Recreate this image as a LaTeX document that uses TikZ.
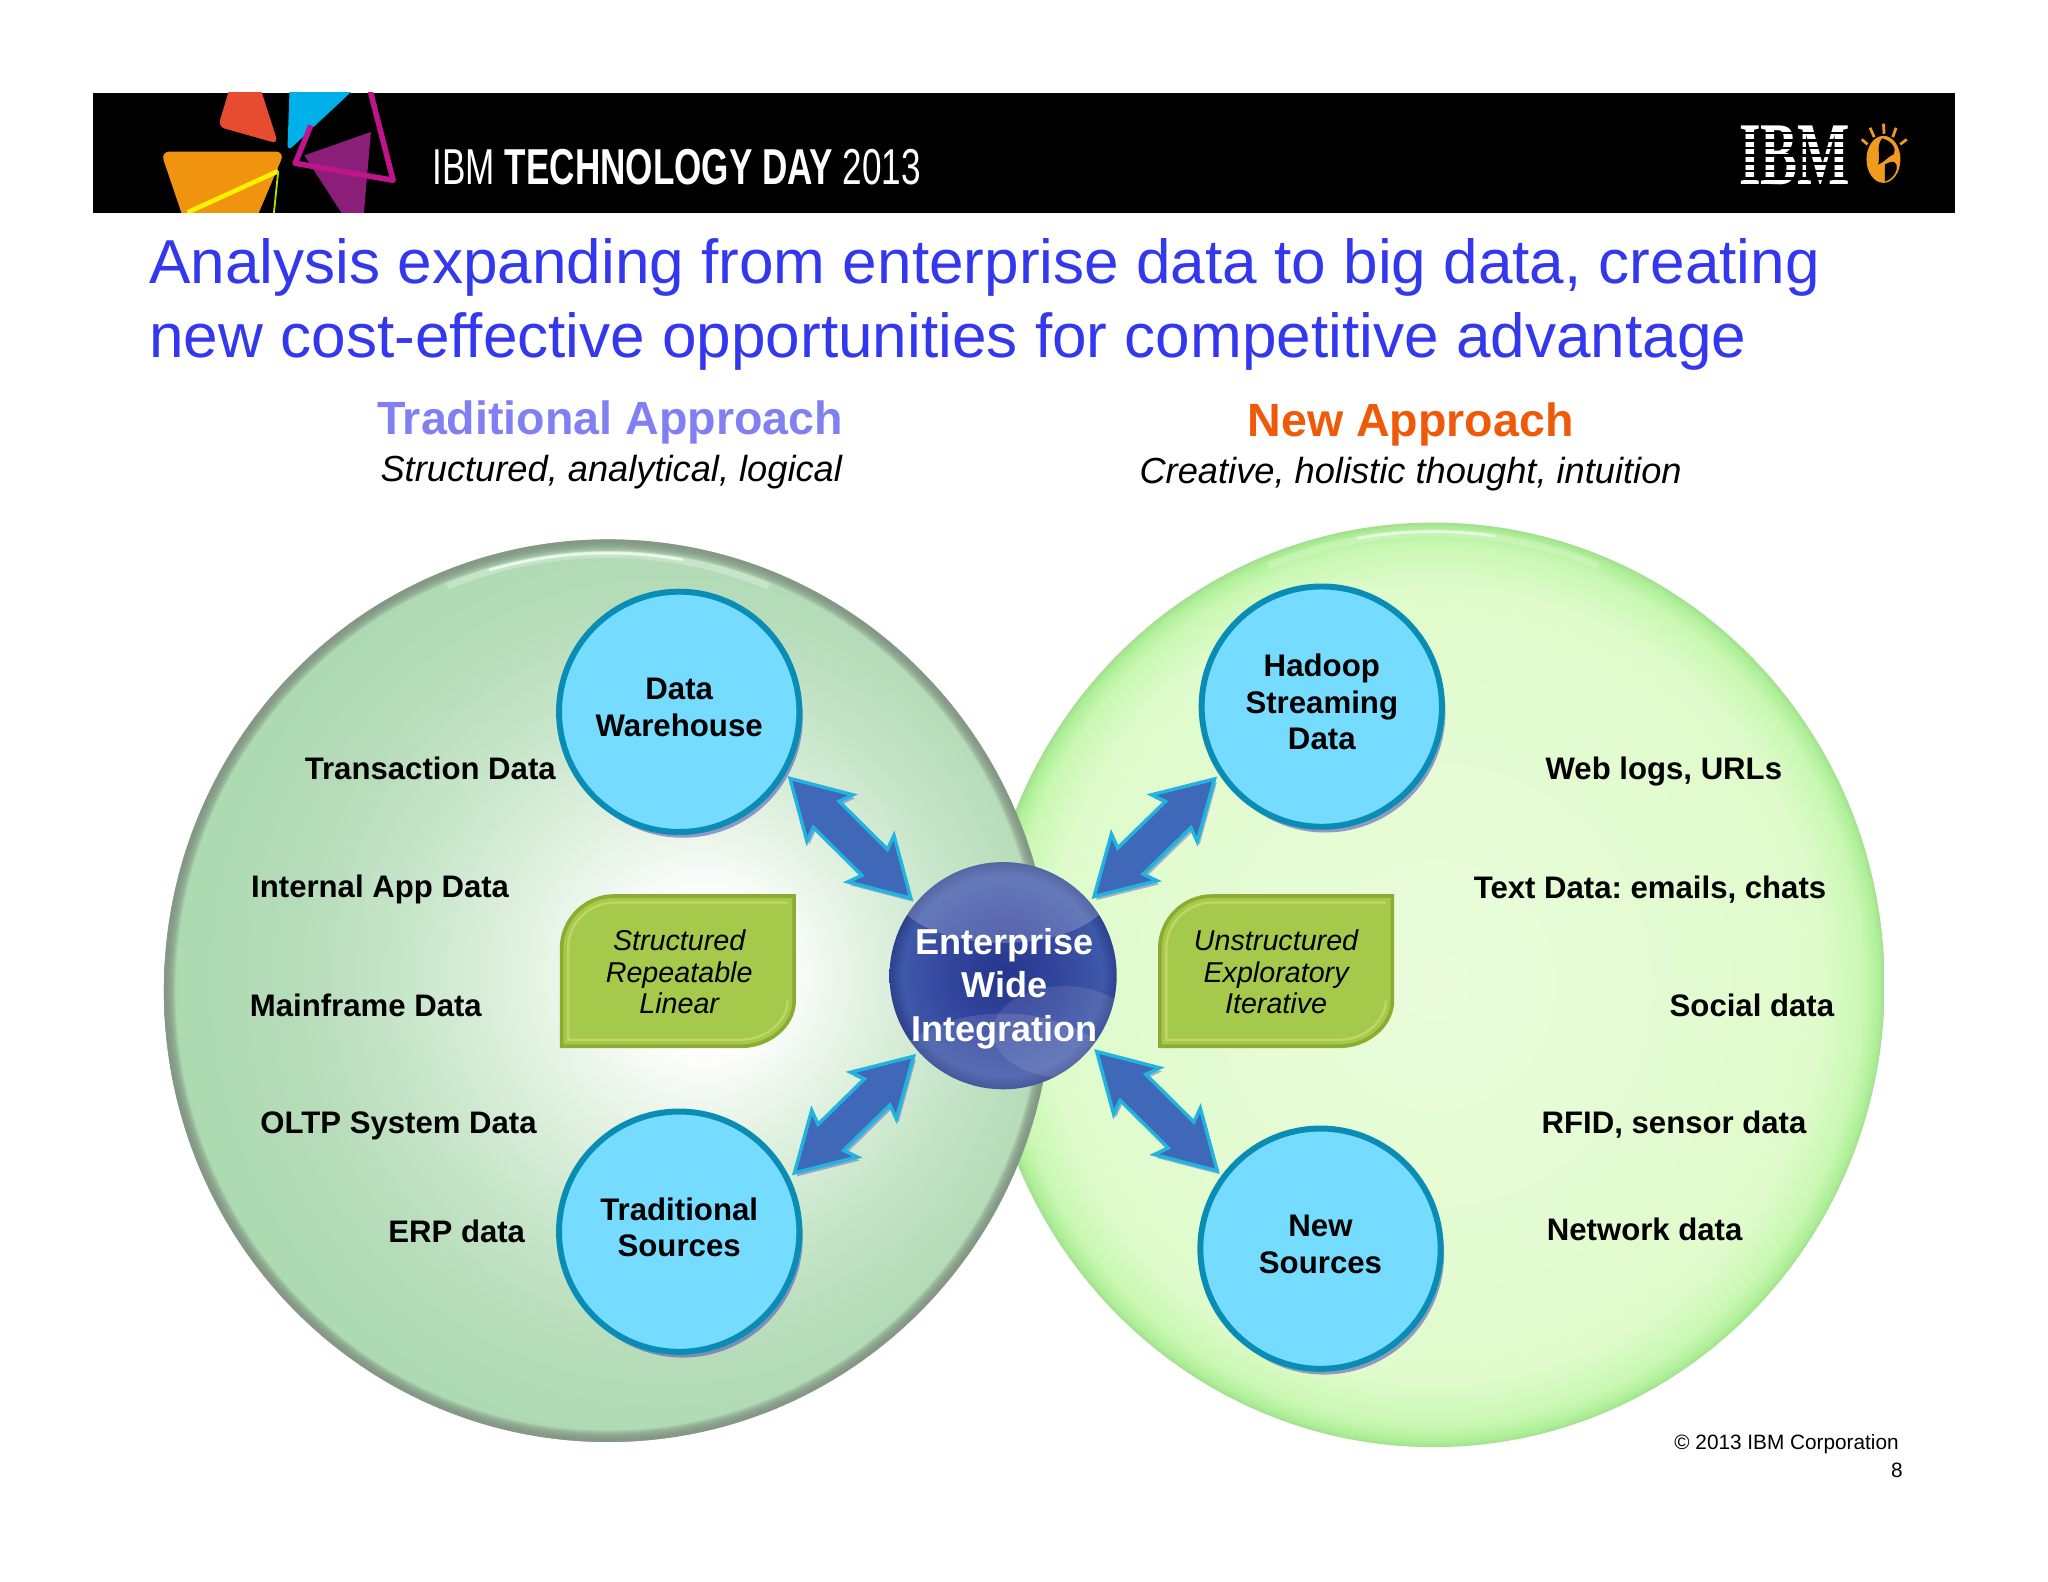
\documentclass[tikz,border=0pt]{standalone}
\usepackage{fontspec}
\usepackage{tikz}
\usetikzlibrary{calc}
\usetikzlibrary{shadows}
\usetikzlibrary{shapes.geometric}
\setmainfont{Liberation Sans}
\newfontfamily\bannerfont[FakeStretch=0.695]{Liberation Sans}
\newfontfamily\logofont[FakeStretch=0.62]{Liberation Serif}
\frenchspacing

\definecolor{titleblue}{HTML}{3338EE}
\definecolor{tradblue}{HTML}{8080F2}
\definecolor{neworange}{HTML}{EE5A0A}
\definecolor{skyfill}{HTML}{76DCFF}
\definecolor{skyedge}{HTML}{0A8DB5}
\definecolor{leaffill}{HTML}{A5C94A}
\definecolor{leafedge}{HTML}{8CAB30}
\definecolor{leaflight}{HTML}{BDD868}
\definecolor{arrowfill}{HTML}{3F68B8}
\definecolor{arrowedge}{HTML}{22B4DE}
\definecolor{rimgrey}{HTML}{7F8F80}

\definecolor{ts0}{HTML}{FFFFFF}\definecolor{ts1}{HTML}{E5F3E4}\definecolor{ts2}{HTML}{CAE7CC}
\definecolor{ts3}{HTML}{B6DCB9}\definecolor{ts4}{HTML}{A8D9AE}\definecolor{ts5}{HTML}{A0D6A6}
\definecolor{ns0}{HTML}{EAFCDC}\definecolor{ns1}{HTML}{DFFBCB}\definecolor{ns2}{HTML}{CAF8B4}
\definecolor{ns3}{HTML}{AFEF98}\definecolor{ns4}{HTML}{A2DF8E}
\definecolor{bl0}{HTML}{26358C}\definecolor{bl1}{HTML}{33479E}\definecolor{bl2}{HTML}{3F58A8}\definecolor{bl3}{HTML}{2C418E}

\pgfdeclareradialshading{tradshade}{\pgfpoint{6bp}{1bp}}{
	color(0bp)=(ts0); color(4bp)=(ts0); color(9bp)=(ts1); color(15bp)=(ts2); color(21bp)=(ts3); color(29bp)=(ts4); color(50bp)=(ts5)}
\pgfdeclareradialshading{newshade}{\pgfpoint{0bp}{0bp}}{
	color(0bp)=(ns0); color(21.5bp)=(ns1); color(23.8bp)=(ns2); color(24.7bp)=(ns3); color(25bp)=(ns4); color(50bp)=(ns4)}
\pgfdeclareradialshading{ballshade}{\pgfpoint{0bp}{0bp}}{
	color(0bp)=(bl0); color(13bp)=(bl1); color(22bp)=(bl2); color(25bp)=(bl3); color(50bp)=(bl3)}

\tikzset{
	bigdisc/.style={ellipse,inner sep=0pt},
	source/.style={circle,fill=skyfill,draw=skyedge,line width=2.6pt,inner sep=0pt,minimum size=3.68cm,outer sep=4pt,
		align=center,font=\fontsize{13.6}{15.9}\selectfont\bfseries,text depth=4pt,
		drop shadow={shadow xshift=1.5pt,shadow yshift=-2.5pt,opacity=.55,fill=blue!40!gray}},
	ball/.style={circle,shading=ballshade,inner sep=0pt,minimum size=3.48cm,outer sep=3pt},
	balltext/.style={anchor=base,align=center,inner sep=0pt,text=white,font=\fontsize{15.7}{18.8}\selectfont\bfseries},
	datatext/.style={anchor=base west,font=\fontsize{13.57}{16}\selectfont\bfseries,inner sep=0pt},
	headtext/.style={anchor=base,inner sep=0pt,font=\fontsize{20.3}{22}\selectfont\bfseries},
	subtext/.style={anchor=base,inner sep=0pt,font=\fontsize{15.8}{18}\selectfont\itshape},
	leaftext/.style={align=center,inner sep=0pt,font=\fontsize{12.5}{13.9}\selectfont\itshape},
	flowarrow/.style={fill=arrowfill,draw=arrowedge,line width=1.5pt,miter limit=4,
		drop shadow={shadow xshift=1pt,shadow yshift=-1.5pt,opacity=.4,fill=blue!50!gray},
		to path={
			-- ($(\tikztostart)!.86cm!(\tikztotarget)!.5cm!90:(\tikztotarget)$)
			-- ($(\tikztostart)!.78cm!(\tikztotarget)!.28cm!90:(\tikztotarget)$)
			-- ($(\tikztotarget)!.78cm!(\tikztostart)!.28cm!-90:(\tikztostart)$)
			-- ($(\tikztotarget)!.86cm!(\tikztostart)!.5cm!-90:(\tikztostart)$)
			-- (\tikztotarget)
			-- ($(\tikztotarget)!.86cm!(\tikztostart)!.5cm!90:(\tikztostart)$)
			-- ($(\tikztotarget)!.78cm!(\tikztostart)!.28cm!90:(\tikztostart)$)
			-- ($(\tikztostart)!.78cm!(\tikztotarget)!.28cm!-90:(\tikztotarget)$)
			-- ($(\tikztostart)!.86cm!(\tikztotarget)!.5cm!-90:(\tikztotarget)$)
			-- cycle}},
}

\begin{document}
\begin{tikzpicture}[x=0.02cm,y=-0.02cm]
	\useasboundingbox (0,0) rectangle (1568,1211);
	
	% banner
	\fill[black] (71,71) rectangle (1497,163);
	\begin{scope}
		\clip (71,71) rectangle (1497,163);
		\fill[rounded corners=3pt,color={rgb,255:red,232;green,76;blue,48}] (178,60) -- (197,60) -- (213,110) -- (167,97) -- cycle;
		\fill[rounded corners=3pt,color={rgb,255:red,0;green,176;blue,232}] (222,60) -- (280,60) -- (220,116) -- cycle;
		\fill[color={rgb,255:red,138;green,30;blue,120}] (284,101) -- (233,119) -- (266,170) -- (278,170) -- cycle;
		\draw[color={rgb,255:red,192;green,20;blue,140},line width=2.4pt,line join=round] (281,60) -- (301,138) -- (226,125) -- (238,96);
		\fill[rounded corners=4pt,color={rgb,255:red,240;green,148;blue,16}] (123,116) -- (218,116) -- (193,175) -- (143,175) -- cycle;
		\draw[color=yellow,line width=2pt] (145,170) -- (145,162) -- (213,131);
		\draw[color=yellow!70!green,line width=.8pt] (213,131) -- (209,170);
	\end{scope}
	\node[anchor=base west,inner sep=0pt,text=white,font=\fontsize{22}{24}\selectfont\bannerfont] (daytext) at (331,141)
		{IBM \textbf{TECHNOLOGY DAY} 2013};
	\node[anchor=base,inner sep=0pt,text=white,font=\fontsize{39}{40}\selectfont\logofont\bfseries] (ibmlogo) at (1374,141) {IBM};
	\foreach \k in {1,...,7}
		\draw[black,line width=1.1pt] (1328,96+\k*5.8) -- (1422,96+\k*5.8);
	\node[ellipse,fill={rgb,255:red,240;green,155;blue,30},minimum width=.52cm,minimum height=.72cm,inner sep=0pt] (globe) at (1442,122) {};
	\fill[black] (1441,106) .. controls (1449,108) and (1452,114) .. (1450,118) .. controls (1445,120) and (1443,124) .. (1438,126) .. controls (1440,118) and (1436,112) .. (1441,106) -- cycle;
	\fill[black] (1443,126) .. controls (1450,122) and (1453,124) .. (1452,130) .. controls (1450,136) and (1446,138) .. (1443,139) -- cycle;
	\foreach \xa/\ya/\xb/\yb in {1425.4/106.7/1429.8/110.5,1431.8/97.8/1434.9/105,1442/94.7/1442.5/102.4,1451.7/97.8/1449.1/105,1459.9/106.7/1454.8/110.5}
		\draw[color={rgb,255:red,240;green,155;blue,30},line width=1.2pt] (\xa,\ya) -- (\xb,\yb);
	
	% titles
	\node[anchor=base west,inner sep=0pt,text=titleblue,align=left,font=\fontsize{27.06}{32.4}\selectfont] (title) at (114,274)
		{Analysis expanding from enterprise data to big data, creating\\new cost-effective opportunities for competitive advantage};
	\node[headtext,text=tradblue] (trad) at (467,333) {Traditional Approach};
	\node[headtext,text=neworange] (newapp) at (1080,334) {New Approach};
	\node[subtext] (tradsub) at (468,369) {Structured, analytical, logical};
	\node[subtext] (newsub) at (1080,370) {Creative, holistic thought, intuition};
	
	% big discs
	\node[bigdisc,shading=newshade,minimum width=13.82cm,minimum height=14.16cm] (newdisc) at (1097.5,754) {};
	\begin{scope}
		\clip (1097.5,754) ellipse (345.5 and 354);
		\draw[white,opacity=.22,line width=3pt] (1097.5,754) ++(-68:337 and 346) arc[start angle=-68,end angle=-112,x radius=337,y radius=346];
		\draw[white,opacity=.6,line width=1.2pt] (1097.5,754) ++(-82:338 and 347) arc[start angle=-82,end angle=-100,x radius=338,y radius=347];
	\end{scope}
	\node[bigdisc,shading=tradshade,minimum width=13.6cm,minimum height=13.82cm] (traddisc) at (465.5,758.5) {};
	\begin{scope}
		\clip (465.5,758.5) ellipse (340 and 345.5);
		\foreach \w in {2,...,10}
			\draw[rimgrey,opacity=.2,line width=\w pt] (465.5,758.5) ellipse (340 and 345.5);
		\draw[white,opacity=.25,line width=3pt] (465.5,758.5) ++(-68:329 and 334) arc[start angle=-68,end angle=-112,x radius=329,y radius=334];
		\draw[white,opacity=.7,line width=1.2pt] (465.5,758.5) ++(-80:330 and 335) arc[start angle=-80,end angle=-106,x radius=330,y radius=335];
	\end{scope}
	
	% sources
	\node[source] (dw) at (520,545) {Data\\Warehouse};
	\node[source] (ts) at (520,943) {Traditional\\Sources};
	\node[source] (hd) at (1012,541) {Hadoop\\Streaming\\Data};
	\node[source] (ns) at (1011,956) {New\\Sources};
	
	% green boxes
	\foreach \lx in {430,888} {
		\filldraw[fill=leaffill,draw=leafedge,line width=1.6pt] (\lx+178,686) -- (\lx+178,766) .. controls (\lx+178,786) and (\lx+158,801) .. (\lx+138,801) -- (\lx,801) -- (\lx,726) .. controls (\lx,704) and (\lx+18,686) .. (\lx+40,686) -- cycle;
		\draw[leaflight,line width=1pt] (\lx+173,691) -- (\lx+40,691) .. controls (\lx+22,691) and (\lx+5,706) .. (\lx+5,726) -- (\lx+5,796) -- (\lx+138,796) .. controls (\lx+156,796) and (\lx+173,782) .. (\lx+173,766);
	}
	\node[leaftext] (structured) at (520,744) {Structured\\Repeatable\\Linear};
	\node[leaftext] (unstructured) at (977,744) {Unstructured\\Exploratory\\Iterative};
	
	% middle
	\node[ball] (eci) at (768,747) {};
	\begin{scope}
		\clip (768,747) circle (87);
		\fill[white,opacity=.2] (768,680) ellipse (84 and 42);
		\fill[white,opacity=.12] (768,838) ellipse (95 and 62);
		\fill[white,opacity=.1] (815,790) ellipse (55 and 35);
	\end{scope}
	\node[balltext] (ecitext) at (769,797) {Enterprise\\Wide\\Integration};
	
	\draw[flowarrow] (dw.-31) to (eci.140);
	\draw[flowarrow] (ts.27) to (eci.222);
	\draw[flowarrow] (hd.214) to (eci.41);
	\draw[flowarrow] (ns.143) to (eci.-39);
	
	% data labels
	\node[datatext] (d1) at (233,597) {Transaction Data};
	\node[datatext] (d2) at (192,687) {Internal App Data};
	\node[datatext] (d3) at (191,778) {Mainframe Data};
	\node[datatext] (d4) at (199,868) {OLTP System Data};
	\node[datatext] (d5) at (297,951) {ERP data};
	\node[datatext] (e1) at (1183,597) {Web logs, URLs};
	\node[datatext] (e2) at (1128,688) {Text Data: emails, chats};
	\node[datatext] (e3) at (1278,778) {Social data};
	\node[datatext] (e4) at (1180,868) {RFID, sensor data};
	\node[datatext] (e5) at (1184,950) {Network data};
	
	% footer
	\node[anchor=east,inner sep=0pt,font=\fontsize{9.05}{11}\selectfont] (copyr) at (1454,1106) {© 2013 IBM Corporation};
	\node[anchor=east,inner sep=0pt,font=\fontsize{9.05}{11}\selectfont] (pageno) at (1457,1126) {8};
\end{tikzpicture}
\end{document}
